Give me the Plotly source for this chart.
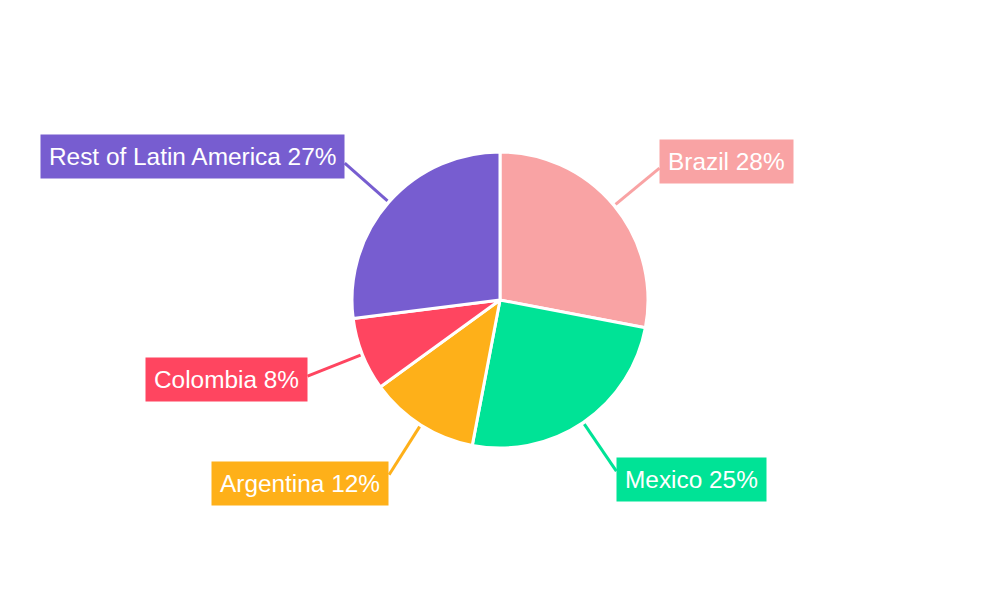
import numpy as np
import plotly.graph_objects as go

countries = ["Brazil", "Mexico", "Argentina", "Colombia", "Rest of Latin America"]
shares = [28, 25, 12, 8, 27]
colors = ["#F9A3A4", "#00E396", "#FEB019", "#FF4560", "#775DD0"]

W, H = 1000, 600
# page body adds an 8px offset, so the pie centre sits 8px up/left
cx, cy, R = 492, 292, 148

fig = go.Figure(
    go.Pie(
        labels=countries,
        values=shares,
        sort=False,
        direction="clockwise",
        rotation=0,
        marker=dict(colors=colors, line=dict(color="white", width=3)),
        textinfo="none",
        hoverinfo="label+percent",
        domain=dict(x=[(cx - R) / W, (cx + R) / W], y=[(H - cy - R) / H, (H - cy + R) / H]),
        showlegend=False,
    )
)

# leader lines + boxed labels, placed from the slice mid-angles
total = sum(shares)
start = 0.0
for name, val, col in zip(countries, shares, colors):
    mid = (start + val / 2) / total * 2 * np.pi
    start += val
    sx, sy = np.sin(mid), -np.cos(mid)

    x0, y0 = cx + 150 * sx, cy + 150 * sy
    x1, y1 = cx + 207 * sx, cy + 207 * sy
    fig.add_shape(
        type="line",
        xref="paper", yref="paper",
        x0=x0 / W, y0=1 - y0 / H, x1=x1 / W, y1=1 - y1 / H,
        line=dict(color=col, width=3),
    )

    lx, ly = cx + 207 * sx, cy + 217 * sy
    fig.add_annotation(
        x=lx / W, y=1 - ly / H,
        xref="paper", yref="paper",
        text=f"{name} {round(val / total * 100)}%",
        showarrow=False,
        xanchor="left" if sx > 0 else "right",
        yanchor="middle",
        bgcolor=col,
        borderpad=8,
        font=dict(family="Liberation Sans, Arial, sans-serif", size=24.4, color="white"),
    )

fig.update_layout(
    width=W,
    height=H,
    margin=dict(l=0, r=0, t=0, b=0),
    paper_bgcolor="white",
    plot_bgcolor="white",
)

fig.write_html("out.html")
